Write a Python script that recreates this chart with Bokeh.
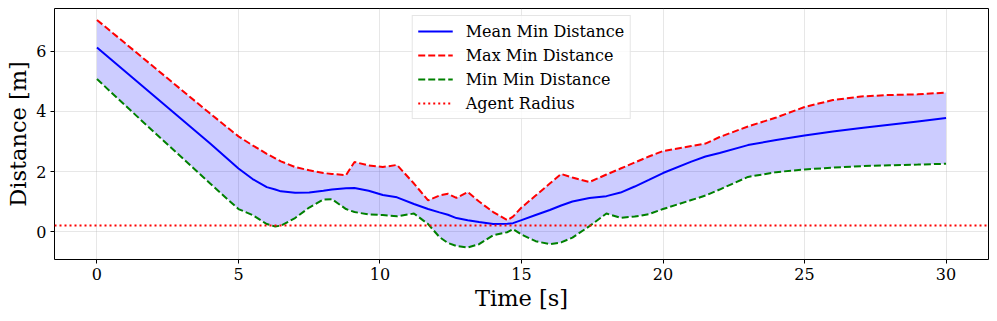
from bokeh.plotting import figure
from bokeh.models import FixedTicker, Range1d
from bokeh.embed import file_html
from bokeh.resources import INLINE

time_s = [0, 1, 2, 3, 4, 5, 5.5, 6, 6.3, 6.5, 7, 7.5, 8, 8.3, 8.8, 9.1, 9.6, 10.1, 10.6,
          11.2, 11.7, 12.1, 12.4, 12.7, 13.1, 13.5, 14.0, 14.5, 14.7, 15.0, 15.5, 16.0,
          16.4, 16.8, 17.4, 18.0, 18.5, 19.0, 19.5, 20, 21, 21.5, 22, 23, 24, 25, 26,
          27, 28, 29, 30]
mean_min = [6.13, 5.33, 4.53, 3.73, 2.93, 2.10, 1.75, 1.48, 1.40, 1.34, 1.29, 1.30, 1.36,
            1.40, 1.44, 1.45, 1.36, 1.22, 1.14, 0.92, 0.75, 0.64, 0.56, 0.45, 0.38, 0.32,
            0.25, 0.26, 0.28, 0.38, 0.55, 0.72, 0.87, 1.00, 1.12, 1.18, 1.30, 1.50, 1.72,
            1.95, 2.33, 2.50, 2.62, 2.88, 3.05, 3.20, 3.33, 3.45, 3.56, 3.67, 3.78]
max_min = [7.05, 6.27, 5.49, 4.71, 3.93, 3.17, 2.87, 2.59, 2.44, 2.34, 2.15, 2.04, 1.95,
           1.92, 1.88, 2.32, 2.20, 2.15, 2.22, 1.60, 1.04, 1.20, 1.26, 1.12, 1.32, 1.00,
           0.65, 0.38, 0.50, 0.80, 1.20, 1.60, 1.92, 1.80, 1.65, 1.90, 2.10, 2.30, 2.50,
           2.68, 2.85, 2.93, 3.15, 3.50, 3.80, 4.15, 4.38, 4.50, 4.55, 4.57, 4.63]
min_min = [5.08, 4.20, 3.33, 2.47, 1.60, 0.75, 0.55, 0.25, 0.17, 0.20, 0.45, 0.80, 1.07,
           1.08, 0.75, 0.65, 0.57, 0.55, 0.51, 0.60, 0.25, -0.18, -0.38, -0.48, -0.53,
           -0.42, -0.12, -0.02, 0.08, -0.10, -0.32, -0.42, -0.36, -0.20, 0.18, 0.60, 0.46,
           0.50, 0.58, 0.75, 1.05, 1.20, 1.40, 1.82, 1.98, 2.07, 2.13, 2.18, 2.21, 2.23, 2.26]
agent_radius = 0.2
x_ticks = [0, 5, 10, 15, 20, 25, 30]
y_ticks = [0, 2, 4, 6]

FONT = "DejaVu Serif"

p = figure(width=989, height=313, output_backend="svg", toolbar_location=None,
           x_range=Range1d(-1.5, 31.5), y_range=Range1d(-0.93, 7.43),
           min_border_left=54, min_border_right=1, min_border_top=8, min_border_bottom=53)

p.varea(x=time_s, y1=min_min, y2=max_min, fill_color="#0000ff", fill_alpha=0.2)
p.line(time_s, mean_min, line_color="#0000ff", line_width=2, legend_label="Mean Min Distance")
p.line(time_s, max_min, line_color="#ff0000", line_width=2, line_dash="7 3",
       legend_label="Max Min Distance")
p.line(time_s, min_min, line_color="#008000", line_width=2, line_dash="7 3",
       legend_label="Min Min Distance")
span_x = [p.x_range.start, p.x_range.end]
p.line(span_x, [agent_radius, agent_radius], line_color="#ff0000", line_width=2,
       line_dash="2 3", legend_label="Agent Radius")

p.outline_line_color = "black"
p.outline_line_width = 1
for g in (p.xgrid, p.ygrid):
    g.grid_line_color = "#b0b0b0"
    g.grid_line_alpha = 0.3
    g.grid_line_width = 1

p.xaxis.ticker = FixedTicker(ticks=x_ticks)
p.yaxis.ticker = FixedTicker(ticks=y_ticks)
p.xgrid.ticker = FixedTicker(ticks=x_ticks)
p.ygrid.ticker = FixedTicker(ticks=y_ticks)
for ax in (p.xaxis, p.yaxis):
    ax.axis_line_color = None
    ax.minor_tick_line_color = None
    ax.major_tick_in = 0
    ax.major_tick_out = 4
    ax.major_tick_line_color = "black"
    ax.major_label_text_font = FONT
    ax.major_label_text_font_size = "16px"
    ax.major_label_text_color = "black"
    ax.axis_label_text_font = FONT
    ax.axis_label_text_font_size = "22.5px"
    ax.axis_label_text_font_style = "normal"
    ax.axis_label_text_color = "black"
p.xaxis.axis_label = "Time [s]"
p.yaxis.axis_label = "Distance [m]"
p.xaxis.axis_label_standoff = 2
p.yaxis.axis_label_standoff = 2
p.xaxis.major_label_standoff = 4
p.yaxis.major_label_standoff = 4

lg = p.legend[0]
lg.location = "top_center"
lg.label_text_font = FONT
lg.label_text_font_size = "16px"
lg.label_text_color = "black"
lg.border_line_color = "#cccccc"
lg.border_line_width = 1
lg.background_fill_alpha = 0.8
lg.glyph_width = 35
lg.glyph_height = 20
lg.label_height = 20
lg.spacing = 4
lg.padding = 5
lg.margin = 7
lg.label_standoff = 13

open("out.html", "w").write(file_html(p, INLINE))
